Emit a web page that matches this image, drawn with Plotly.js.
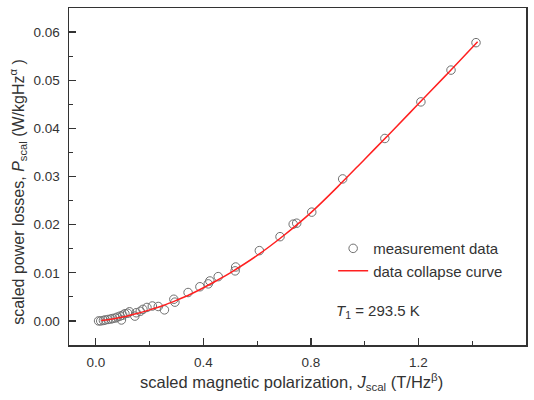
<!DOCTYPE html>
<html>
<head>
<meta charset="utf-8">
<script src="https://cdn.plot.ly/plotly-3.0.1.min.js"></script>
<style>html,body{margin:0;padding:0;background:#fff;}#chart{width:534px;height:400px;}</style>
</head>
<body>
<div id="chart"></div>
<script>
const measJ = [0.010, 0.018, 0.028, 0.035, 0.045, 0.055, 0.062, 0.072, 0.080, 0.090,
  0.095, 0.100, 0.108, 0.118, 0.125, 0.145, 0.150, 0.165, 0.175, 0.190,
  0.210, 0.232, 0.255, 0.290, 0.294, 0.343, 0.387, 0.418, 0.424, 0.455,
  0.518, 0.520, 0.608, 0.685, 0.734, 0.747, 0.803, 0.918, 1.075, 1.209,
  1.321, 1.414];
const measP = [0.0000, 0.0000, 0.0001, 0.0002, 0.0003, 0.0004, 0.0005, 0.0006, 0.0008, 0.0010,
  0.0002, 0.0012, 0.0015, 0.0016, 0.0019, 0.0010, 0.0017, 0.0020, 0.0024, 0.0028,
  0.0031, 0.0030, 0.0023, 0.0045, 0.0039, 0.0059, 0.0071, 0.0077, 0.0083, 0.0092,
  0.0104, 0.0112, 0.0146, 0.0175, 0.0201, 0.0203, 0.0226, 0.0295, 0.0379, 0.0455,
  0.0521, 0.0578];
// data collapse curve
const curveJ = [0.02, 0.05, 0.1, 0.15, 0.2, 0.25, 0.3, 0.35, 0.4, 0.45, 0.5, 0.6, 0.7, 0.8, 0.9, 1.0, 1.1, 1.2, 1.3, 1.42];
const curveP = [0.0001, 0.0003, 0.0008, 0.0015, 0.0023, 0.0032, 0.0043, 0.0055, 0.0069, 0.0084, 0.0100, 0.0136, 0.0178, 0.0225, 0.0279, 0.0336, 0.0393, 0.0451, 0.0509, 0.0580];

const font = 'Liberation Sans, Arial, sans-serif';
const textCol = '#333333';

const traces = [
  {x: measJ, y: measP, type: 'scatter', mode: 'markers', name: 'measurement data',
   marker: {symbol: 'circle-open', size: 8.5, color: '#707070', line: {width: 1, color: '#707070'}}},
  {x: curveJ, y: curveP, type: 'scatter', mode: 'lines', name: 'data collapse curve',
   line: {color: '#ff2020', width: 1.5, shape: 'spline'}}
];

const axisCommon = {
  showgrid: false, zeroline: false, showline: true, linecolor: '#333333', linewidth: 1.5,
  mirror: true, ticks: 'inside', ticklen: 7, tickwidth: 1.2, tickcolor: '#333333',
  tickfont: {family: font, size: 13.5, color: textCol}
};

const layout = {
  width: 534, height: 400,
  margin: {l: 69, r: 8, t: 8, b: 55},
  paper_bgcolor: '#ffffff', plot_bgcolor: '#ffffff',
  showlegend: true,
  legend: {x: 0.578, y: 0.335, xanchor: 'left', yanchor: 'top', bgcolor: 'rgba(0,0,0,0)',
    font: {family: font, size: 15, color: textCol}, tracegroupgap: 0},
  xaxis: Object.assign({}, axisCommon, {range: [-0.1, 1.6], dtick: 0.4, tick0: 0, tickformat: '.1f',
    minor: {dtick: 0.2, ticks: 'inside', ticklen: 4, tickcolor: '#333333', tickwidth: 1.2},
    ticklabelstandoff: 4}),
  yaxis: Object.assign({}, axisCommon, {range: [-0.005, 0.065], dtick: 0.01, tick0: 0, tickformat: '.2f',
    minor: {dtick: 0.005, ticks: 'inside', ticklen: 4, tickcolor: '#333333', tickwidth: 1.2},
    ticklabelstandoff: 5}),
  annotations: [
    {xref: 'paper', yref: 'paper', x: 0.487, y: -0.071, xanchor: 'center', yanchor: 'top', showarrow: false,
     text: 'scaled magnetic polarization, <i>J</i><sub>scal</sub> (T/Hz<sup>β</sup>)',
     font: {family: font, size: 16.5, color: textCol}},
    {xref: 'paper', yref: 'paper', x: -0.112, y: 0.454, xanchor: 'center', yanchor: 'middle', showarrow: false,
     textangle: -90,
     text: 'scaled power losses, <i>P</i><sub>scal</sub> (W/kgHz<sup>α</sup> )',
     font: {family: font, size: 16, color: textCol}},
    {xref: 'paper', yref: 'paper', x: 0.58, y: 0.1, xanchor: 'left', yanchor: 'middle', showarrow: false,
     text: '<i>T</i><sub>1</sub> = 293.5 K',
     font: {family: font, size: 15, color: textCol}}
  ]
};

Plotly.newPlot('chart', traces, layout, {displayModeBar: false, staticPlot: true});
</script>
</body>
</html>
